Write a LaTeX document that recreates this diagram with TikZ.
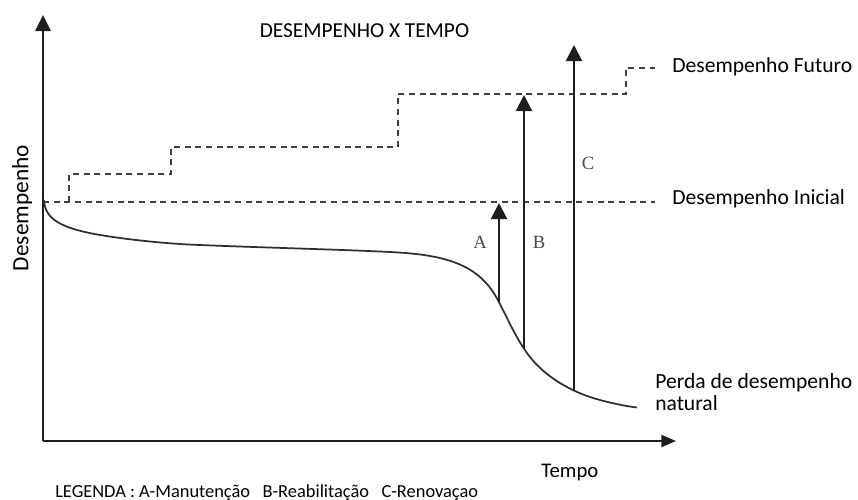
\documentclass[tikz,border=0pt]{standalone}
\usepackage{fontspec}
\setmainfont{Carlito}
\newfontfamily\serifabc{Liberation Serif}
\usetikzlibrary{arrows.meta}
\definecolor{axiscol}{HTML}{1E1E1E}
\definecolor{curvecol}{HTML}{2E2E2E}
\definecolor{dashcol}{HTML}{404040}
\definecolor{letcol}{HTML}{4A4A4A}
\tikzset{
  axisline/.style={draw=axiscol, line width=1.7pt, -{Triangle[length=12pt,width=11.5pt]}},
  xaxisline/.style={draw=axiscol, line width=1.7pt, -{Triangle[length=11pt,width=9pt]}},
  uparrow/.style={draw=axiscol, line width=1.5pt, -{Triangle[length=12pt,width=12pt]}},
  perfcurve/.style={draw=curvecol, line width=1.3pt},
  dashline/.style={draw=dashcol, line width=1.2pt, dash pattern=on 4.5pt off 3.5pt},
  lbl/.style={inner sep=0pt, anchor=base west, font=\fontsize{16.2}{19}\selectfont, text=black},
  letter/.style={inner sep=0pt, font=\serifabc\fontsize{14}{16}\selectfont, text=letcol}
}
\begin{document}
\begin{tikzpicture}[x=0.75pt, y=-0.75pt]
\useasboundingbox (0,0) rectangle (858,500);
% axes
\coordinate (O) at (43,441);
\coordinate (Ytop) at (43,15);
\coordinate (Xend) at (676,441);
\draw[axisline] (O) -- (Ytop);
\draw[xaxisline] (O) -- (Xend);
% dashed lines
\coordinate (i0) at (43,202);
\coordinate (i1) at (655,202);
\draw[dashline] (i0) -- (i1);
\coordinate (f0) at (69,202);
\coordinate (f1) at (69,174);
\coordinate (f2) at (171,174);
\coordinate (f3) at (171,147);
\coordinate (f4) at (398,147);
\coordinate (f5) at (398,94);
\coordinate (f6) at (626,94);
\coordinate (f7) at (626,68);
\coordinate (f8) at (655,68);
\draw[dashline] (f0) -- (f1) -- (f2) -- (f3) -- (f4) -- (f5) -- (f6) -- (f7) -- (f8);
% performance curve
\coordinate (p0) at (44,200);
\coordinate (p1) at (100,235);
\coordinate (p2) at (200,245);
\coordinate (p3) at (390,252);
\coordinate (p4) at (495,295);
\coordinate (p5) at (530,357);
\coordinate (p6) at (600,400);
\coordinate (p7) at (637,407.5);
\draw[perfcurve] (p0) .. controls (45,219) and (60,228) .. (p1)
  .. controls (130,240) and (170,244) .. (p2)
  .. controls (260,247.5) and (340,249.5) .. (p3)
  .. controls (440,254.5) and (475,262) .. (p4)
  .. controls (505,312) and (515,338) .. (p5)
  .. controls (545,376) and (570,392) .. (p6)
  .. controls (615,404) and (625,406) .. (p7);
% intervention arrows
\coordinate (a0) at (499,302);
\coordinate (a1) at (499,203);
\coordinate (b0) at (524,349);
\coordinate (b1) at (524,95);
\coordinate (c0) at (574,391);
\coordinate (c1) at (574,45);
\draw[uparrow] (a0) -- (a1);
\draw[uparrow] (b0) -- (b1);
\draw[uparrow] (c0) -- (c1);
\node[letter] (la) at (480,242) {A};
\node[letter] (lb) at (539,242) {B};
\node[letter] (lc) at (588,163) {C};
% texts
\node[inner sep=0pt, anchor=base, font=\fontsize{16}{19}\selectfont] (title) at (364.5,37.5) {DESEMPENHO X TEMPO};
\node[lbl] (fut) at (672,72) {Desempenho Futuro};
\node[lbl] (ini) at (672,204) {Desempenho Inicial};
\node[lbl] (perda) at (655,388) {Perda de desempenho};
\node[lbl] (nat) at (655,410) {natural};
\node[lbl, font=\fontsize{15.6}{18}\selectfont] (tempo) at (541,477) {Tempo};
\node[inner sep=0pt, anchor=base, rotate=90, font=\fontsize{17.5}{20}\selectfont] (desemp) at (28.5,208) {Desempenho};
\node[inner sep=0pt, anchor=base west, font=\fontsize{13.8}{16}\selectfont] (leg) at (55,497) {LEGENDA : A-Manutenção\ \ \ B-Reabilitação\ \ \ C-Renovaçao};
\end{tikzpicture}
\end{document}
